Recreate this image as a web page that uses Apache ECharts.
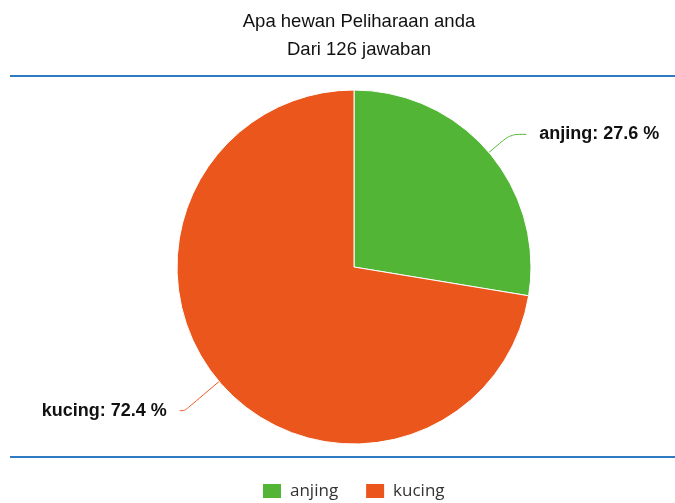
<!DOCTYPE html>
<html>
<head>
<meta charset="utf-8">
<script src="https://cdn.jsdelivr.net/npm/echarts@6/dist/echarts.min.js"></script>
<style>
  html, body { margin: 0; padding: 0; background: #fff; }
  #chart { width: 675px; height: 503px; }
</style>
</head>
<body>
<div id="chart"></div>
<script>
const categories = ['anjing', 'kucing'];
const values = [27.6, 72.4];
const colors = ['#52b535', '#eb561c'];
// per-slice label line lengths [length, length2]
const lineLengths = [[28, 16], [45, 5]];

const chart = echarts.init(document.getElementById('chart'));

const option = {
  animation: false,
  color: colors,
  title: {
    text: 'Apa hewan Peliharaan anda\nDari 126 jawaban',
    left: 354,
    textAlign: 'center',
    top: 3,
    textStyle: {
      fontFamily: 'Liberation Sans',
      fontSize: 18.5,
      fontWeight: 'normal',
      color: '#111',
      lineHeight: 28
    }
  },
  legend: {
    data: categories,
    top: 477,
    left: 256,
    icon: 'rect',
    itemWidth: 20,
    itemHeight: 16,
    itemGap: 26,
    textStyle: {
      fontFamily: 'Open Sans',
      fontSize: 17,
      color: '#333',
      padding: [0, 0, 0, 3]
    }
  },
  graphic: [
    { type: 'line', shape: { x1: 10, y1: 76, x2: 675, y2: 76 }, style: { stroke: '#2e7bc4', lineWidth: 2 } },
    { type: 'line', shape: { x1: 10, y1: 457, x2: 675, y2: 457 }, style: { stroke: '#2e7bc4', lineWidth: 2 } }
  ],
  series: [{
    type: 'pie',
    center: [354, 267],
    radius: 177,
    startAngle: 90,
    clockwise: true,
    data: categories.map((c, i) => ({
      name: c,
      value: values[i],
      labelLine: { length: lineLengths[i][0], length2: lineLengths[i][1] }
    })),
    itemStyle: { borderColor: '#fff', borderWidth: 1 },
    label: {
      formatter: p => p.name + ': ' + p.value.toFixed(1) + ' %',
      fontFamily: 'Liberation Sans',
      fontSize: 18,
      fontWeight: 'bold',
      color: '#111',
      distanceToLabelLine: 13
    },
    labelLine: {
      smooth: true,
      lineStyle: { width: 1 }
    }
  }]
};

chart.setOption(option);
</script>
</body>
</html>
